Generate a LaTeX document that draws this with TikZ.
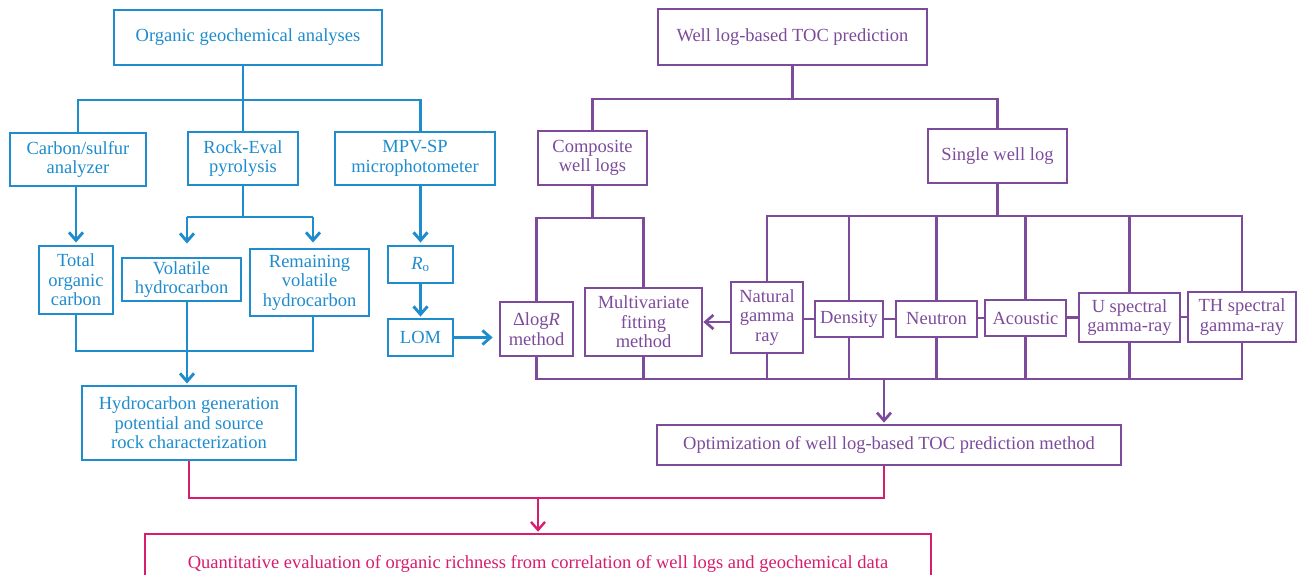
\documentclass[tikz,border=0pt]{standalone}
\usepackage{fontspec}
\setmainfont{Liberation Serif}
\usetikzlibrary{arrows.meta}
\definecolor{cblue}{RGB}{30,140,205}
\definecolor{cpurp}{RGB}{125,75,155}
\definecolor{cmag}{RGB}{215,30,110}
\begin{document}
\begin{tikzpicture}[x=1pt,y=-1pt, font=\fontsize{18.5}{19.5}\selectfont,
 bx/.style={draw, line width=2.9pt, inner sep=0pt, align=center},
 bb/.style={bx, draw=cblue, text=cblue},
 pb/.style={bx, draw=cpurp, text=cpurp, line width=2.7pt},
 mb/.style={bx, draw=cmag, text=cmag, line width=2.5pt},
 bl/.style={draw=cblue, line width=2.9pt},
 pl/.style={draw=cpurp, line width=2.7pt},
 ml/.style={draw=cmag, line width=2.4pt},
 arr/.style={-{Straight Barb[length=8pt,width=14pt]}}]
\useasboundingbox (0,0) rectangle (1299,575);
\clip (0,0) rectangle (1299,575);
% blue nodes
\node[bb, minimum width=268pt, minimum height=55pt] (oga) at (248,37.5) {Organic geochemical analyses};
\node[bb, minimum width=136pt, minimum height=53pt] (cs) at (78,159.5) {Carbon/sulfur\\analyzer};
\node[bb, minimum width=110pt, minimum height=53pt] (rep) at (243,158.5) {Rock-Eval\\pyrolysis};
\node[bb, minimum width=160pt, minimum height=53pt] (mpv) at (415,158.5) {MPV-SP\\microphotometer};
\node[bb, minimum width=74pt, minimum height=68pt] (toc) at (76,280) {Total\\organic\\carbon};
\node[bb, minimum width=119pt, minimum height=43pt] (vh) at (181.5,279.5) {Volatile\\hydrocarbon};
\node[bb, minimum width=119pt, minimum height=67pt] (rvh) at (309.5,282.5) {Remaining\\volatile\\hydrocarbon};
\node[bb, minimum width=65pt, minimum height=37pt] (ro) at (420.5,264.5) {\textit{R}\textsubscript{o}};
\node[bb, minimum width=65pt, minimum height=37pt] (lom) at (420.5,337.5) {LOM};
\node[bb, minimum width=214pt, minimum height=74pt] (hg) at (189,423) {Hydrocarbon generation\\potential and source\\rock characterization};
% purple nodes
\node[pb, minimum width=269pt, minimum height=56pt] (wtoc) at (792.5,37) {Well log-based TOC prediction};
\node[pb, minimum width=109pt, minimum height=54pt] (cwl) at (592.5,158) {Composite\\well logs};
\node[pb, minimum width=139pt, minimum height=54pt] (swl) at (997.5,156) {Single well log};
\node[pb, minimum width=73pt, minimum height=54pt] (dl) at (536.5,329) {Δlog\textit{R}\\method};
\node[pb, minimum width=117pt, minimum height=68pt] (mf) at (643.5,322) {Multivariate\\fitting\\method};
\node[pb, minimum width=72pt, minimum height=71pt] (ng) at (767,317.5) {Natural\\gamma\\ray};
\node[pb, minimum width=68pt, minimum height=36pt] (den) at (849,319) {Density};
\node[pb, minimum width=81pt, minimum height=36pt] (neu) at (936.5,319) {Neutron};
\node[pb, minimum width=81pt, minimum height=36pt] (ac) at (1025.5,318) {Acoustic};
\node[pb, minimum width=101pt, minimum height=49pt] (usg) at (1129.5,317.5) {U spectral\\gamma-ray};
\node[pb, minimum width=108pt, minimum height=50pt] (th) at (1242,317) {TH spectral\\gamma-ray};
\node[pb, minimum width=464pt, minimum height=40pt] (opt) at (889,445) {Optimization of well log-based TOC prediction method};
% magenta node
\node[mb, minimum width=786pt, minimum height=60pt] (qe) at (538,564) {Quantitative evaluation of organic richness from correlation of well logs and geochemical data};
% blue connectors
\coordinate (busA) at (0,100);
\draw[bl] (cs.north) |- (busA -| ro.north) -- (ro.north |- mpv.north);
\draw[bl] (rep.north) -- (rep.north |- oga.south);
\draw[bl,arr,shorten >=2pt] (toc.north |- cs.south) -- (toc.north);
\coordinate (j1) at (187,217);
\coordinate (j2) at (313,217);
\draw[bl] (rep.south) -- (rep.south |- j1);
\draw[bl] (j1) -- (j2);
\draw[bl,arr,shorten >=13pt] (j1) -- (j1 |- vh.north);
\draw[bl,arr,shorten >=5pt] (j2) -- (j2 |- rvh.north);
\draw[bl,arr,shorten >=2pt] (ro.north |- mpv.south) -- (ro.north);
\draw[bl,arr,shorten >=1pt] (ro.south) -- (lom.north);
\draw[bl,arr,shorten >=6pt] (lom.east) -- (lom.east -| dl.west);
\coordinate (busC) at (0,351);
\draw[bl] (toc.south) |- (busC -| j2) -- (j2 |- rvh.south);
\draw[bl,arr,shorten >=1pt] (j1 |- vh.south) -- (j1 |- hg.north);
% purple connectors
\coordinate (busP) at (0,99);
\draw[pl] (wtoc.south) -- (wtoc.south |- busP);
\draw[pl] (cwl.north) |- (busP -| swl.north) -- (swl.north);
\coordinate (busQ) at (0,218);
\draw[pl] (cwl.south) -- (cwl.south |- busQ);
\draw[pl] (dl.north) |- (busQ -| mf.north) -- (mf.north);
\coordinate (busR) at (0,216);
\draw[pl] (swl.south) -- (swl.south |- busR);
\draw[pl] (ng.north) |- (busR -| th.north) -- (th.north);
\foreach \n in {den,neu,ac,usg} \draw[pl] (\n.north) -- (\n.north |- busR);
\draw[pl] (den.west) -- (den.west -| ng.east);
\draw[pl] (neu.west) -- (neu.west -| den.east);
\draw[pl] (ac.west) -- (ac.west -| neu.east);
\draw[pl] (usg.west) -- (usg.west -| ac.east);
\draw[pl] (th.west) -- (th.west -| usg.east);
\draw[pl,arr] (mf.east -| ng.west) -- (mf.east);
\coordinate (busS) at (0,379);
\draw[pl] (dl.south) |- (busS -| th.south) -- (th.south);
\foreach \n in {mf,ng,den,neu,ac,usg} \draw[pl] (\n.south) -- (\n.south |- busS);
\coordinate (k) at (884,379);
\draw[pl,arr,shorten >=1pt] (k) -- (k |- opt.north);
% magenta connectors
\coordinate (busM) at (0,498);
\draw[ml] (hg.south) |- (busM -| k) -- (k |- opt.south);
\draw[ml,arr,shorten >=1pt] (busM -| qe.north) -- (qe.north);
\end{tikzpicture}
\end{document}
